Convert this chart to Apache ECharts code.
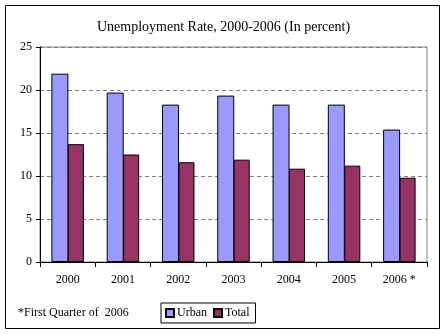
<!DOCTYPE html>
<html><head><meta charset="utf-8">
<script src="https://cdn.jsdelivr.net/npm/echarts@6/dist/echarts.min.js"></script>
<style>html,body{margin:0;padding:0;background:#fff}#c{width:447px;height:334px}</style>
</head><body><div id="c"></div>
<script>
const categories = ['2000','2001','2002','2003','2004','2005','2006 *'];
const urban = [21.9, 19.7, 18.3, 19.35, 18.3, 18.3, 15.4];
const total = [13.7, 12.5, 11.6, 11.9, 10.85, 11.2, 9.8];
const yTicks = [0,5,10,15,20,25];
const titleText = 'Unemployment Rate, 2000-2006 (In percent)';
const footnote = '*First Quarter of  2006';

const font = '"Liberation Serif", "Times New Roman", serif';
const chart = echarts.init(document.getElementById('c'), null, {renderer:'canvas'});
chart.setOption({
  animation:false,
  backgroundColor:'#fff',
  title:{text:titleText,left:'center',top:15,textStyle:{fontFamily:font,fontSize:14,fontWeight:'normal',color:'#000'}},
  grid:{left:40,top:47,width:387,height:215,show:true,borderColor:'#808080',borderWidth:1,backgroundColor:'transparent'},
  legend:{
    data:['Urban','Total'],left:161,top:303,
    padding:[4,6,4,4],itemGap:6,itemWidth:8,itemHeight:8,
    borderColor:'#000',borderWidth:1,
    textStyle:{fontFamily:font,fontSize:12,color:'#000',padding:[0,0,0,-2]},
    icon:'rect'
  },
  xAxis:{type:'category',data:categories,
    axisLine:{lineStyle:{color:'#000'}},
    axisTick:{show:true,length:5,inside:false,lineStyle:{color:'#000'}},
    axisLabel:{fontFamily:font,fontSize:12,color:'#000',margin:12}},
  yAxis:{type:'value',min:0,max:25,interval:5,
    axisLine:{show:true,lineStyle:{color:'#000'}},
    axisTick:{show:true,length:4,lineStyle:{color:'#000'}},
    axisLabel:{fontFamily:font,fontSize:12,color:'#000',margin:8,
      formatter:v=>yTicks.includes(v)?String(v):''},
    splitLine:{show:true,lineStyle:{color:'#808080',type:[4,3]}}},
  series:[
    {name:'Urban',type:'bar',data:urban,barWidth:17,barGap:'-3%',
      itemStyle:{color:'#9999FF',borderColor:'#000',borderWidth:1}},
    {name:'Total',type:'bar',data:total,barWidth:16,
      itemStyle:{color:'#993366',borderColor:'#000',borderWidth:1}}
  ],
  graphic:[
    {type:'rect',shape:{x:5.5,y:5.5,width:434,height:323},style:{fill:null,stroke:'#000',lineWidth:1},silent:true},
    {type:'text',left:18,top:307,style:{text:footnote,fontFamily:font,fontSize:12,fill:'#000'}}
  ]
});
</script></body></html>
